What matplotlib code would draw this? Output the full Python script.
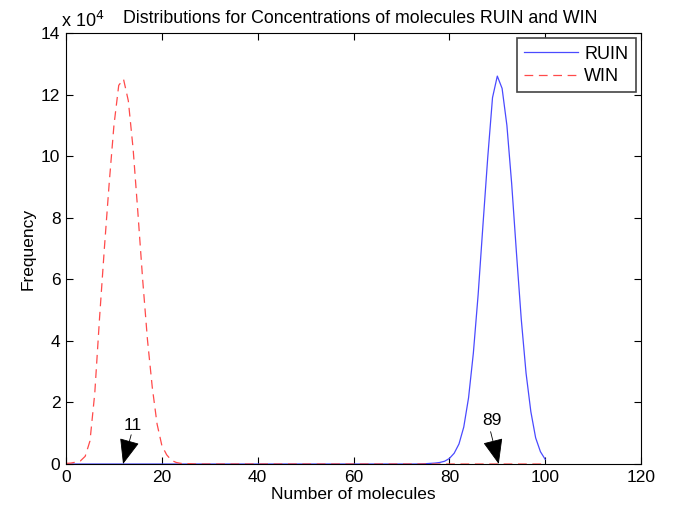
import numpy as np
import matplotlib.pyplot as plt

plt.rcParams['font.family'] = ['Liberation Sans', 'DejaVu Sans']

# number of molecules (bin positions)
x = np.arange(0, 101)

# RUIN counts (x 10^4), nonzero part from 74 to 100
ruin_peak_x = np.arange(74, 101)
ruin_peak = [0.005, 0.01, 0.02, 0.03, 0.05, 0.09, 0.18, 0.35, 0.65, 1.2, 2.15,
             3.6, 5.5, 7.75, 9.95, 11.9, 12.6, 12.2, 11.0, 9.1, 6.85, 4.7,
             2.95, 1.7, 0.85, 0.4, 0.15]

# WIN counts (x 10^4), nonzero part from 0 to 27
win_peak_x = np.arange(0, 28)
win_peak = [0.02, 0.03, 0.06, 0.1, 0.25, 0.75, 2.3, 4.75, 7.0, 9.1, 11.0,
            12.3, 12.5, 11.8, 10.24, 8.16, 5.98, 4.03, 2.49, 1.3, 0.6, 0.3,
            0.12, 0.05, 0.02, 0.01, 0.01, 0.0]

ruin = np.zeros(len(x))
ruin[ruin_peak_x] = ruin_peak
win = np.zeros(len(x))
win[win_peak_x] = win_peak

fig = plt.figure(figsize=(6.92, 5.13), dpi=100)
ax = fig.add_axes([0.0954, 0.0955, 0.831, 0.8402])

ax.plot(x, ruin * 1e4, color='#4a4aff', lw=0.9, label='RUIN')
ax.plot(x, win * 1e4, color='#ff4a4a', lw=0.9, ls=(0, (7, 4.5)), label='WIN')

ax.set_xlim(0, 120)
ax.set_ylim(0, 14e4)
ax.set_xticks(np.arange(0, 121, 20))
ax.set_yticks(np.arange(0, 14.1e4, 2e4))
ax.set_yticklabels([str(v) for v in range(0, 15, 2)])
ax.tick_params(direction='in', top=True, right=True, labelsize=12.5, length=5, width=0.8, pad=4)
for s in ax.spines.values():
    s.set_linewidth(0.8)

ax.text(-0.009, 1.004, r'x 10$^4$', transform=ax.transAxes, fontsize=13, ha='left', va='bottom')
ax.set_title('Distributions for Concentrations of molecules RUIN and WIN', fontsize=12.8, pad=7, x=0.512)
ax.set_xlabel('Number of molecules', fontsize=12.5, labelpad=2)
ax.set_ylabel('Frequency', fontsize=12.5, labelpad=4)

leg = ax.legend(loc='upper right', fontsize=13, fancybox=False, edgecolor='#444444',
                handlelength=3.0, handletextpad=0.35, borderaxespad=0.3, framealpha=1,
                borderpad=0.4, labelspacing=0.3)
leg.get_frame().set_linewidth(1.2)

# annotations for the peaks
arrow = dict(arrowstyle='-|>,head_length=1.0,head_width=0.4', color='black', lw=0.6,
             shrinkA=0, shrinkB=0, mutation_scale=16)
ax.annotate('', xy=(11.9, 0), xytext=(13.6, 0.95e4), arrowprops=arrow)
ax.text(14.0, 1.25e4, '11', fontsize=12.5, ha='center', va='center')
ax.annotate('', xy=(90.3, 0), xytext=(88.6, 1.05e4), arrowprops=arrow)
ax.text(88.9, 1.4e4, '89', fontsize=12.5, ha='center', va='center')

fig.savefig('out.png', dpi=100)
